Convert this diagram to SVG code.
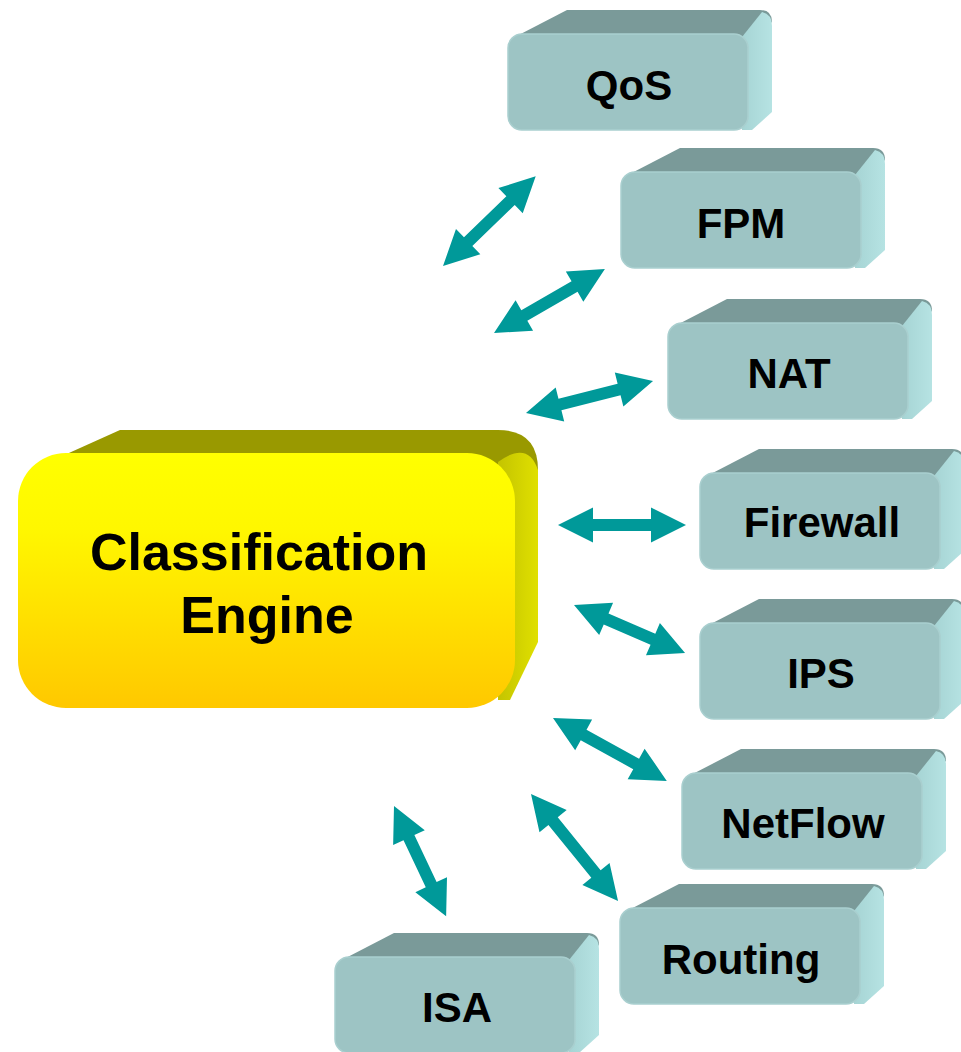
<svg xmlns="http://www.w3.org/2000/svg" xmlns:xlink="http://www.w3.org/1999/xlink" width="961" height="1052" viewBox="0 0 961 1052">
<style>
.lbl{font-family:"Liberation Sans",Arial,sans-serif;font-weight:bold;font-size:42px;fill:#000;text-anchor:middle}
.big{font-family:"Liberation Sans",Arial,sans-serif;font-weight:bold;font-size:52px;fill:#000;text-anchor:middle}
.arr{fill:#009999}
.ttop{fill:#7A9A99}
.tside{fill:url(#gSide)}
.tfront{fill:#9DC4C4;stroke:#A9CFCF;stroke-width:1.5}
</style>
<defs>
<linearGradient id="gSide" x1="0" y1="0" x2="1" y2="0">
<stop offset="0" stop-color="#A6D4D4"/>
<stop offset="1" stop-color="#B6E3E3"/>
</linearGradient>
<linearGradient id="gYel" x1="0" y1="0" x2="0" y2="1">
<stop offset="0" stop-color="#FFFF00"/>
<stop offset="0.3" stop-color="#FFF700"/>
<stop offset="1" stop-color="#FFC800"/>
</linearGradient>
<linearGradient id="gYside" x1="0" y1="0" x2="1" y2="0">
<stop offset="0" stop-color="#C4C400"/>
<stop offset="1" stop-color="#E0E000"/>
</linearGradient>
<g id="tbox">
<path class="ttop" d="M3,5 L59,-24 L252,-24 Q264,-24 264,-12 L240,6 Z"/>
<path class="tside" d="M234,3 L254,-22 Q264,-20 264,-8 L264,78 L244,96 L234,96 Z"/>
<rect class="tfront" x="0" y="0" width="240" height="96" rx="14"/>
</g>
</defs>
<rect width="961" height="1052" fill="#fff"/>

<g id="engine">
<path fill="#999900" d="M40,466 L120,430 L498,430 Q538,430 538,470 L515,492 Z"/>
<path fill="url(#gYside)" d="M498,462 Q528,440 538,470 L538,642 L510,700 L498,700 Z"/>
<rect x="18" y="453" width="497" height="255" rx="48" fill="url(#gYel)"/>
<text class="big" x="259" y="570">Classification</text>
<text class="big" x="267" y="633">Engine</text>
</g>

<g id="qos" transform="translate(508,34)"><use xlink:href="#tbox"/><text class="lbl" x="121" y="66">QoS</text></g>
<g id="fpm" transform="translate(621,172)"><use xlink:href="#tbox"/><text class="lbl" x="120" y="66">FPM</text></g>
<g id="nat" transform="translate(668,323)"><use xlink:href="#tbox"/><text class="lbl" x="121" y="65">NAT</text></g>
<g id="firewall" transform="translate(700,473)"><use xlink:href="#tbox"/><text class="lbl" x="122" y="64">Firewall</text></g>
<g id="ips" transform="translate(700,623)"><use xlink:href="#tbox"/><text class="lbl" x="121" y="65">IPS</text></g>
<g id="netflow" transform="translate(682,773)"><use xlink:href="#tbox"/><text class="lbl" x="121" y="65">NetFlow</text></g>
<g id="routing" transform="translate(620,908)"><use xlink:href="#tbox"/><text class="lbl" x="121" y="66">Routing</text></g>
<g id="isa" transform="translate(335,957)"><use xlink:href="#tbox"/><text class="lbl" x="122" y="65">ISA</text></g>

<g id="connectors">
<path class="arr" transform="translate(443,266) rotate(-44.06)" d="M0,0 L35,-17.5 L35,-6 L94,-6 L94,-17.5 L129,0 L94,17.5 L94,6 L35,6 L35,17.5 Z"/>
<path class="arr" transform="translate(494,333) rotate(-29.97)" d="M0,0 L35,-17.5 L35,-6 L93,-6 L93,-17.5 L128,0 L93,17.5 L93,6 L35,6 L35,17.5 Z"/>
<path class="arr" transform="translate(526,413) rotate(-14.14)" d="M0,0 L35,-17.5 L35,-6 L96,-6 L96,-17.5 L131,0 L96,17.5 L96,6 L35,6 L35,17.5 Z"/>
<path class="arr" transform="translate(558,525)" d="M0,0 L35,-17.5 L35,-6 L93,-6 L93,-17.5 L128,0 L93,17.5 L93,6 L35,6 L35,17.5 Z"/>
<path class="arr" transform="translate(574,605) rotate(23.39)" d="M0,0 L35,-17.5 L35,-6 L86,-6 L86,-17.5 L121,0 L86,17.5 L86,6 L35,6 L35,17.5 Z"/>
<path class="arr" transform="translate(553,718) rotate(28.93)" d="M0,0 L35,-17.5 L35,-6 L95,-6 L95,-17.5 L130,0 L95,17.5 L95,6 L35,6 L35,17.5 Z"/>
<path class="arr" transform="translate(531,794) rotate(50.89)" d="M0,0 L35,-17.5 L35,-6 L103,-6 L103,-17.5 L138,0 L103,17.5 L103,6 L35,6 L35,17.5 Z"/>
<path class="arr" transform="translate(394,806) rotate(64.70)" d="M0,0 L35,-17.5 L35,-6 L87,-6 L87,-17.5 L122,0 L87,17.5 L87,6 L35,6 L35,17.5 Z"/>
</g>
</svg>
